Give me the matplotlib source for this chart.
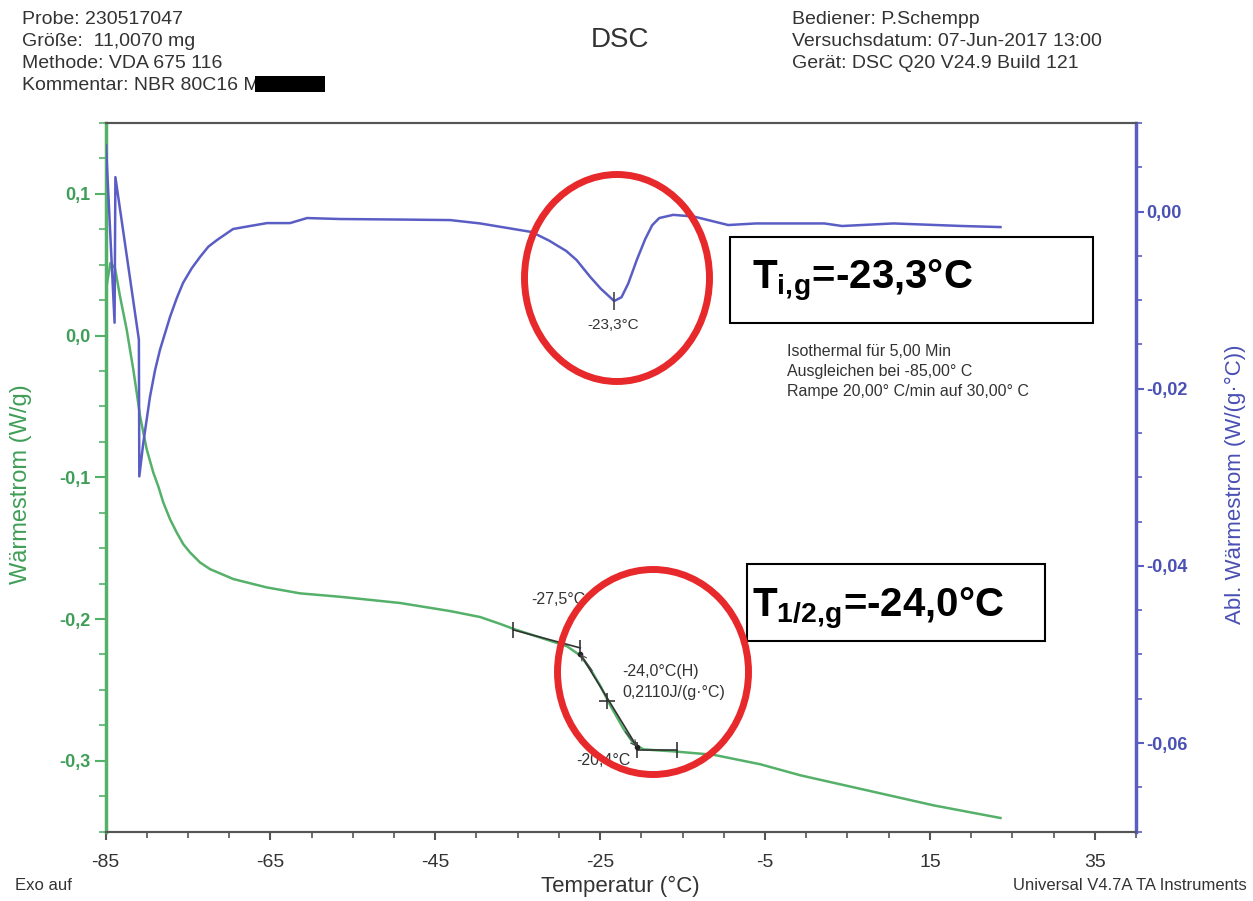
import matplotlib
matplotlib.use("Agg")
import matplotlib.pyplot as plt
from matplotlib.patches import Ellipse, Rectangle
from matplotlib.ticker import MultipleLocator, FixedLocator

plt.rcParams['font.family'] = ['Liberation Sans', 'DejaVu Sans']
plt.rcParams['mathtext.fontset'] = 'custom'
plt.rcParams['mathtext.rm'] = 'Liberation Sans'
plt.rcParams['mathtext.bf'] = 'Liberation Sans:bold'
plt.rcParams['mathtext.it'] = 'Liberation Sans:italic'

# ---------------- data ----------------
temp_green = [-84.94, -84.4, -83.85, -83.24, -82.43, -81.63, -81.21, -80.81, -80.0, -79.2,
              -78.59, -77.99, -77.17, -76.36, -75.56, -74.75, -73.53, -72.32, -69.49, -65.44,
              -61.39, -56.54, -49.26, -43.19, -39.55, -37.1, -35.5, -29.03, -27.4, -26.2,
              -24.99, -23.77, -22.16, -20.94, -19.73, -16.09, -12.85, -11.24, -5.57, -0.7,
              7.39, 15.46, 23.56]
heat_flow = [0.0324, 0.0512, 0.0477, 0.0277, 0.0042, -0.0239, -0.0404, -0.0568, -0.0803,
             -0.0967, -0.1065, -0.1178, -0.1296, -0.139, -0.1472, -0.153, -0.1601, -0.1648,
             -0.1718, -0.1777, -0.1819, -0.1843, -0.1887, -0.1944, -0.1986, -0.2035, -0.207,
             -0.2192, -0.2258, -0.2352, -0.247, -0.261, -0.2775, -0.288, -0.292, -0.2934,
             -0.295, -0.2958, -0.3025, -0.3103, -0.3209, -0.3315, -0.3404]

temp_blue = [-84.94, -83.9, -83.8, -80.95, -80.9, -80.41, -79.6, -78.99, -78.39, -77.17,
             -76.36, -75.59, -74.54, -73.53, -72.52, -71.47, -69.53, -67.47, -65.4, -62.61,
             -60.55, -56.55, -49.26, -43.19, -39.55, -33.29, -31.19, -29.11, -27.85, -26.2,
             -24.93, -23.3, -22.41, -21.59, -20.53, -19.53, -18.68, -17.83, -16.13, -13.64,
             -9.46, -6.12, 2.2, 4.34, 10.57, 18.94, 23.56]
deriv_flow = [0.0075, -0.01255, 0.00389, -0.01447, -0.0299, -0.02607, -0.02089, -0.01791,
              -0.0156, -0.01188, -0.00978, -0.00805, -0.0064, -0.00512, -0.00396, -0.00321,
              -0.00197, -0.00163, -0.0013, -0.0013, -0.00073, -0.00084, -0.0009, -0.00096,
              -0.00134, -0.00231, -0.00328, -0.00445, -0.00548, -0.00738, -0.0087, -0.0101,
              -0.00967, -0.00812, -0.0054, -0.0031, -0.00153, -0.00073, -0.00037, -0.00056,
              -0.00152, -0.00134, -0.00134, -0.00163, -0.00134, -0.00163, -0.00175]

# glass-transition construction (W/g axis)
base1_x = [-35.51, -27.41]
base1_y = [-0.2077, -0.2204]
steep_x = [-27.41, -20.53]
steep_y = [-0.2246, -0.2901]
base2_x = [-20.53, -15.68]
base2_y = [-0.2927, -0.2927]
limit_x = [-35.51, -27.41, -20.53, -15.68]
limit_y = [-0.2077, -0.2204, -0.2927, -0.2927]
mid_x, mid_y = -24.17, -0.2575
tig_x, tig_y = -23.3, -0.0101

x_ticks = [-85, -65, -45, -25, -5, 15, 35]
x_labels = ['-85', '-65', '-45', '-25', '-5', '15', '35']
yl_ticks = [0.1, 0.0, -0.1, -0.2, -0.3]
yl_labels = ['0,1', '0,0', '-0,1', '-0,2', '-0,3']
yr_ticks = [0.0, -0.02, -0.04, -0.06]
yr_labels = ['0,00', '-0,02', '-0,04', '-0,06']

GREEN = '#55b06a'
GREEN_T = '#3f9e57'
BLUE = '#5a5ec4'
BLUE_T = '#4a50b4'
RED = '#e8292b'
GRAY = '#555555'
TXT = '#333333'

W, H = 1253, 901
fig = plt.figure(figsize=(W / 100, H / 100), dpi=100)
ax = fig.add_axes([105.5 / W, 1 - 831.6 / H, (1136 - 105.5) / W, (831.6 - 123) / H])
ax2 = ax.twinx()

ax.plot(temp_green, heat_flow, color=GREEN, lw=1.8, zorder=2)
ax2.plot(temp_blue, deriv_flow, color=BLUE, lw=1.8, zorder=2)

# construction lines
ax.plot(base1_x, base1_y, color='#333333', lw=1.2, zorder=3)
ax.plot(steep_x, steep_y, color='#333333', lw=1.2, zorder=3)
ax.plot(base2_x, base2_y, color='#333333', lw=1.2, zorder=3)
ax.plot(limit_x, limit_y, ls='none', marker='|', ms=11, mew=1.2, color='#333333', zorder=3)
ax.plot([mid_x], [mid_y], ls='none', marker='+', ms=12, mew=1.2, color='#333333', zorder=3)
ax.plot([steep_x[0], steep_x[1]], [steep_y[0], steep_y[1]], ls='none', marker='o', ms=3,
        color='#222222', zorder=3)
ax.annotate('', xy=(steep_x[0], steep_y[0]), xytext=(-25.95, -0.2366),
            arrowprops=dict(arrowstyle='->', lw=0.8, color='#444444', shrinkA=0, shrinkB=0))
ax.annotate('', xy=(steep_x[1], steep_y[1]), xytext=(-21.95, -0.2796),
            arrowprops=dict(arrowstyle='->', lw=0.8, color='#444444', shrinkA=0, shrinkB=0))
ax2.plot([tig_x], [tig_y], ls='none', marker='|', ms=13, mew=1.2, color='#444444', zorder=3)

ax.text(-26.8, -0.186, '-27,5°C', ha='right', va='center', fontsize=11.5, color=TXT)
ax.text(-22.35, -0.2373, '-24,0°C(H)', ha='left', va='center', fontsize=11.5, color=TXT)
ax.text(-22.35, -0.2516, '0,2110J/(g·°C)', ha='left', va='center', fontsize=11.5, color=TXT)
ax.text(-21.35, -0.2998, '-20,4°C', ha='right', va='center', fontsize=11.5, color=TXT)
ax2.text(-23.4, -0.0128, '-23,3°C', ha='center', va='center', fontsize=11, color=TXT)

# axes limits / ticks
ax.set_xlim(-85, 40)
ax.set_ylim(-0.35, 0.15)
ax2.set_ylim(-0.07, 0.01)
ax.xaxis.set_major_locator(FixedLocator(x_ticks))
ax.set_xticklabels(x_labels)
ax.xaxis.set_minor_locator(MultipleLocator(5))
ax.yaxis.set_major_locator(FixedLocator(yl_ticks))
ax.set_yticklabels(yl_labels)
ax.yaxis.set_minor_locator(MultipleLocator(0.025))
ax2.yaxis.set_major_locator(FixedLocator(yr_ticks))
ax2.set_yticklabels(yr_labels)
ax2.yaxis.set_minor_locator(MultipleLocator(0.005))

ax.tick_params(axis='x', which='major', direction='out', length=6, width=1.5, color=GRAY,
               labelsize=14, labelcolor=TXT, pad=10)
ax.tick_params(axis='x', which='minor', direction='out', length=4, width=1.2, color=GRAY)
ax.tick_params(axis='y', which='major', direction='out', length=8, width=1.5, color=GREEN,
               labelsize=13, labelcolor=GREEN_T, pad=3)
ax.tick_params(axis='y', which='minor', direction='out', length=5, width=1.2, color=GREEN)
for t in ax.get_yticklabels():
    t.set_fontweight('bold')
ax2.tick_params(axis='y', which='major', direction='out', length=6, width=1.5, color=BLUE,
                labelsize=13, labelcolor=BLUE_T, pad=1.5)
ax2.tick_params(axis='y', which='minor', direction='out', length=4, width=1.2, color=BLUE)
for t in ax2.get_yticklabels():
    t.set_fontweight('bold')

for a in (ax, ax2):
    a.spines['top'].set_color(GRAY)
    a.spines['top'].set_linewidth(1.5)
    a.spines['bottom'].set_color(GRAY)
    a.spines['bottom'].set_linewidth(1.5)
ax.spines['left'].set_color(GREEN)
ax.spines['left'].set_linewidth(2.5)
ax2.spines['left'].set_visible(False)
ax.spines['right'].set_visible(False)
ax2.spines['right'].set_color(BLUE)
ax2.spines['right'].set_linewidth(2.5)

ax.set_xlabel('Temperatur (°C)', fontsize=16, color=TXT)
ax.xaxis.set_label_coords(0.5, -0.062)
ax.set_ylabel('Wärmestrom (W/g)', fontsize=17, color=GREEN_T)
ax.yaxis.set_label_coords(-0.071, 0.49)
ax2.set_ylabel('Abl. Wärmestrom (W/(g·°C))', fontsize=16, color=BLUE_T)
ax2.yaxis.set_label_coords(1.086, 0.49)

# header
def ftext(px, py, s, **kw):
    fig.text(px / W, 1 - py / H, s, **kw)

hdr = dict(fontsize=14, color=TXT, va='center', ha='left')
ftext(21.7, 20, 'Probe: 230517047', **hdr)
ftext(21.7, 41.7, 'Größe:  11,0070 mg', **hdr)
ftext(21.7, 63.3, 'Methode: VDA 675 116', **hdr)
ftext(21.7, 85, 'Kommentar: NBR 80C16 M', **hdr)
fig.add_artist(Rectangle((255 / W, 1 - 92 / H), 70 / W, 16 / H, transform=fig.transFigure,
                         facecolor='black', edgecolor='none', zorder=5))
ftext(791.7, 20, 'Bediener: P.Schempp', **hdr)
ftext(791.7, 41.7, 'Versuchsdatum: 07-Jun-2017 13:00', **hdr)
ftext(791.7, 63.3, 'Gerät: DSC Q20 V24.9 Build 121', **hdr)
ftext(620, 40, 'DSC', fontsize=20, color=TXT, ha='center', va='center')

ftext(15, 885, 'Exo auf', fontsize=12, color=TXT, ha='left', va='center')
ftext(1247, 885, 'Universal V4.7A TA Instruments', fontsize=12, color=TXT, ha='right', va='center')

iso = dict(fontsize=11.5, color=TXT, ha='left', va='center')
ftext(786.7, 351.7, 'Isothermal für 5,00 Min', **iso)
ftext(786.7, 371.7, 'Ausgleichen bei -85,00° C', **iso)
ftext(786.7, 391.7, 'Rampe 20,00° C/min auf 30,00° C', **iso)

# result boxes
fig.add_artist(Rectangle((730 / W, 1 - 323 / H), 362.7 / W, 86.3 / H, transform=fig.transFigure,
                         facecolor='white', edgecolor='black', lw=1.5, zorder=4))
fig.add_artist(Rectangle((747 / W, 1 - 641 / H), 298 / W, 77 / H, transform=fig.transFigure,
                         facecolor='white', edgecolor='black', lw=1.5, zorder=4))
ftext(752, 288, r'$\mathbf{T_{i,\!g}}$=-23,3°C', fontsize=29, fontweight='bold', color='black',
      ha='left', va='baseline', zorder=6)
ftext(752, 616, r'$\mathbf{T_{1/2,\!g}}$=-24,0°C', fontsize=29, fontweight='bold', color='black',
      ha='left', va='baseline', zorder=6)

# red circles
fig.add_artist(Ellipse((617 / W, 1 - 278 / H), 185 / W, 207 / H, transform=fig.transFigure,
                       fill=False, edgecolor=RED, lw=5, zorder=5))
fig.add_artist(Ellipse((653 / W, 1 - 672 / H), 191 / W, 205 / H, transform=fig.transFigure,
                       fill=False, edgecolor=RED, lw=5, zorder=5))

fig.savefig('out.png', dpi=100)
